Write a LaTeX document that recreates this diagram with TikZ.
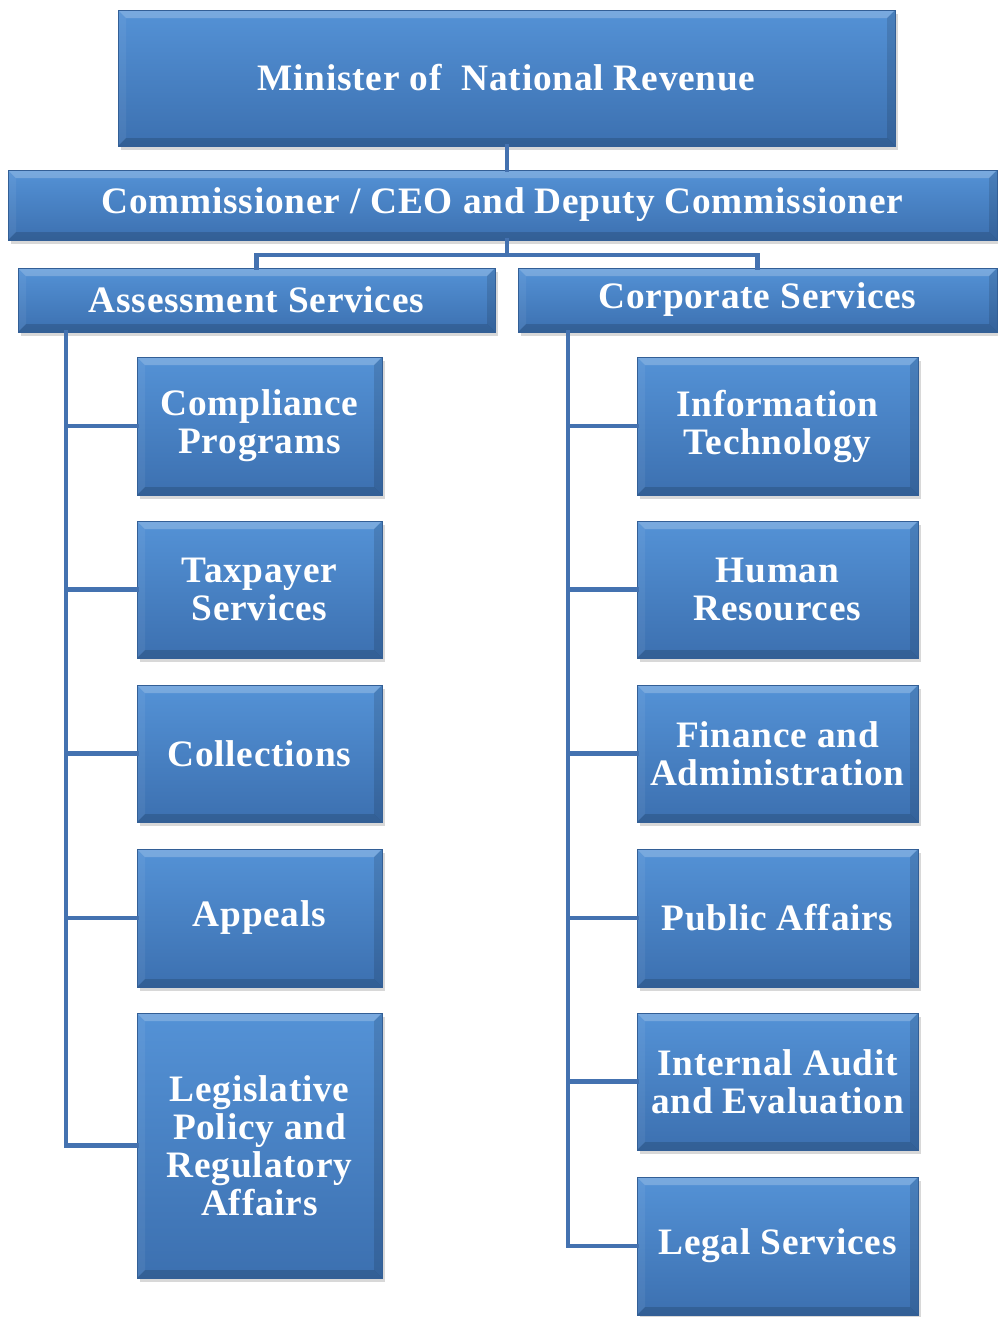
\documentclass[tikz,border=0pt]{standalone}
\usepackage{fontspec}
\setmainfont{Liberation Serif}[LetterSpace=2.0]
\usetikzlibrary{shadows}
\definecolor{boxtop}{RGB}{84,146,214}
\definecolor{boxbot}{RGB}{60,112,176}
\definecolor{linec}{RGB}{68,114,176}
\tikzset{
  box/.style={rectangle, inner sep=0pt, top color=boxtop, bottom color=boxbot,
    draw=boxbot!85!black, line width=0.4pt, text=white, align=center,
    font=\bfseries\fontsize{28}{28.5}\selectfont,
    drop shadow={opacity=0.3, shadow xshift=2pt, shadow yshift=-3pt},
    path picture={
      \fill[white,opacity=.22] (path picture bounding box.north west) -- (path picture bounding box.north east)
        -- ([xshift=-6pt,yshift=-6pt]path picture bounding box.north east) -- ([xshift=6pt,yshift=-6pt]path picture bounding box.north west) -- cycle;
      \fill[black,opacity=.15] (path picture bounding box.south west) -- (path picture bounding box.south east)
        -- ([xshift=-6pt,yshift=6pt]path picture bounding box.south east) -- ([xshift=6pt,yshift=6pt]path picture bounding box.south west) -- cycle;
      \fill[black,opacity=.12] (path picture bounding box.north east) -- (path picture bounding box.south east)
        -- ([xshift=-6pt,yshift=6pt]path picture bounding box.south east) -- ([xshift=-6pt,yshift=-6pt]path picture bounding box.north east) -- cycle;
      \fill[white,opacity=.06] (path picture bounding box.north west) -- (path picture bounding box.south west)
        -- ([xshift=6pt,yshift=6pt]path picture bounding box.south west) -- ([xshift=6pt,yshift=-6pt]path picture bounding box.north west) -- cycle;
    }},
  conn/.style={draw=linec, line width=3.5pt, line cap=rect}
}
\newcommand\orgbox[6]{\node[box, minimum width={(#4-#2)*0.75pt}, minimum height={(#5-#3)*0.75pt}] (#1) at ({(#2+#4)/2},{(#3+#5)/2}) {#6};}
\begin{document}
\begin{tikzpicture}[x=0.75pt, y=-0.75pt]
\path[use as bounding box, fill=white] (0,0) rectangle (997,1317);
% connectors
\coordinate (bus) at (507,255);
\coordinate (ls) at (66,332);
\coordinate (rs) at (568,332);
% boxes
\orgbox{M}{118}{10}{895}{146}{Minister of\ \ National Revenue}
\orgbox{C}{8}{170}{997}{240}{Commissioner / CEO and Deputy Commissioner}
\orgbox{A}{18}{268}{495}{332}{Assessment Services}
\orgbox{R}{518}{268}{997}{332}{Corporate Services}
\orgbox{L1}{137}{357}{382}{495}{Compliance\\Programs}
\orgbox{L2}{137}{521}{382}{658}{Taxpayer\\Services}
\orgbox{L3}{137}{685}{382}{822}{Collections}
\orgbox{L4}{137}{849}{382}{987}{Appeals}
\orgbox{L5}{137}{1013}{382}{1278}{Legislative\\Policy and\\Regulatory\\Affairs}
\orgbox{R1}{637}{357}{918}{495}{Information\\Technology}
\orgbox{R2}{637}{521}{918}{658}{Human\\Resources}
\orgbox{R3}{637}{685}{918}{822}{Finance and\\Administration}
\orgbox{R4}{637}{849}{918}{987}{Public Affairs}
\orgbox{R5}{637}{1013}{918}{1150}{Internal Audit\\and Evaluation}
\orgbox{R6}{637}{1177}{918}{1315}{Legal Services}
% lines
\draw[conn] (bus |- M.south) -- (bus |- C.north);
\draw[conn] (bus |- C.south) -- (bus);
\draw[conn] (A.north) |- (bus) -| (R.north);
\draw[conn] (ls |- A.south) |- (L5.west);
\foreach \n in {L1,L2,L3,L4} \draw[conn] (ls |- \n.west) -- (\n.west);
\draw[conn] (rs |- R.south) |- (R6.west);
\foreach \n in {R1,R2,R3,R4,R5} \draw[conn] (rs |- \n.west) -- (\n.west);
\end{tikzpicture}
\end{document}
